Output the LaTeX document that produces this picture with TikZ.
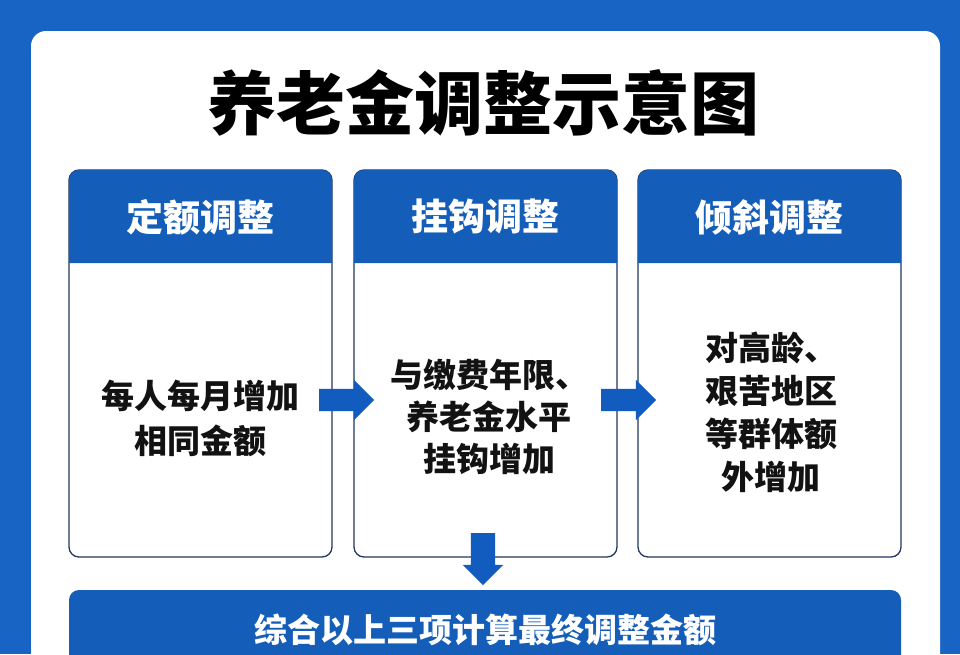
\documentclass[tikz,border=0pt]{standalone}
\usepackage{fontspec}
\setmainfont{Noto Sans CJK SC}
\usetikzlibrary{shapes.arrows}
\definecolor{bgblue}{RGB}{24,100,196}
\definecolor{headblue}{RGB}{20,94,186}
\definecolor{arrowblue}{RGB}{18,92,192}
\definecolor{navy}{RGB}{35,55,95}
\definecolor{ink}{RGB}{18,18,18}
\tikzset{
  boxline/.style={draw=navy, line width=1.3pt, fill=white, rounded corners=10pt},
  headtext/.style={text=white, font=\fontsize{37}{40}\selectfont\bfseries, inner sep=0pt},
  bodytext/.style={text=ink, align=center, inner sep=0pt},
  arrowR/.style={single arrow, fill=arrowblue, draw=none, inner sep=11pt, outer sep=0pt,
    minimum height=55pt, single arrow head extend=9pt, shape border rotate=0},
  arrowD/.style={single arrow, fill=arrowblue, draw=none, inner sep=12pt, outer sep=0pt,
    minimum height=52pt, single arrow head extend=8pt, shape border rotate=270},
}
\begin{document}
\begin{tikzpicture}[x=1pt,y=-1pt]
\useasboundingbox (0,0) rectangle (960,654);
\fill[bgblue] (0,0) rectangle (960,654);
\fill[white, rounded corners=15pt] (31,31) rectangle (940,720);
\node[text=black, font=\fontsize{69}{72}\selectfont\bfseries, inner sep=0pt] (title) at (483,103) {养老金调整示意图};
% boxes
\foreach \x/\n in {69/1,354/2,638/3}{
  \draw[boxline] (\x,170) rectangle ++(263,387);
  \fill[headblue] (\x,263) [rounded corners=10pt] -- (\x,170) -- (\x+263,170) [sharp corners] -- (\x+263,263) -- cycle;
}
\node[headtext] (h1) at (200.5,217) {定额调整};
\node[headtext] (h2) at (485.5,217) {挂钩调整};
\node[headtext] (h3) at (769.5,217) {倾斜调整};
\node[bodytext, font=\fontsize{33}{45}\selectfont\bfseries] (t1) at (200.5,418) {每人每月增加\\相同金额};
\node[bodytext, font=\fontsize{33}{42}\selectfont\bfseries] (t2) at (489,417) {与缴费年限、\\养老金水平\\挂钩增加};
\node[bodytext, font=\fontsize{33}{43}\selectfont\bfseries] (t3) at (771,412) {对高龄、\\艰苦地区\\等群体额\\外增加};
% arrows
\node[arrowR] (arr1) at (341,400) {};
\node[arrowR] (arr2) at (623,400) {};
\node[arrowD] (arr3) at (483,553) {};
% bottom bar
\fill[headblue, rounded corners=10pt] (69,590) rectangle (901,720);
\node[text=white, font=\fontsize{33}{36}\selectfont\bfseries, inner sep=0pt] (sum) at (485,630) {综合以上三项计算最终调整金额};
\end{tikzpicture}
\end{document}
